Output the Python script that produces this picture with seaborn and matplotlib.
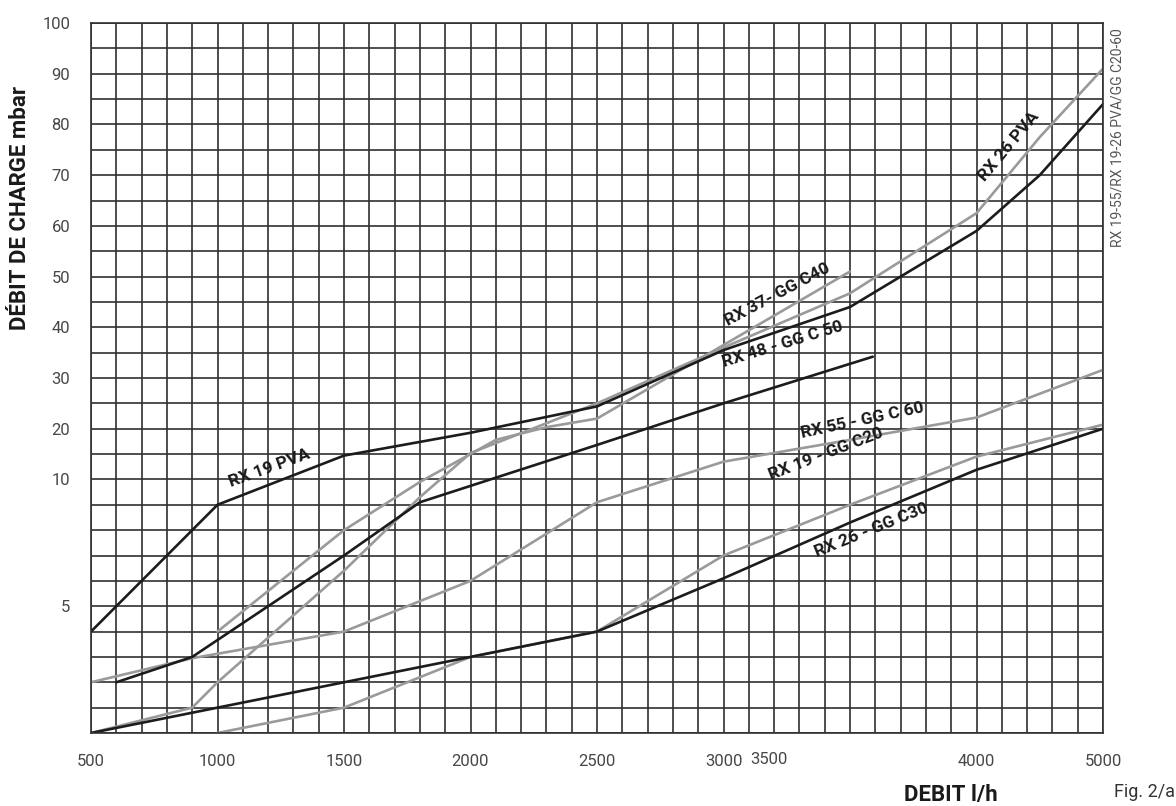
import numpy as np
import pandas as pd
import matplotlib
matplotlib.use('Agg')
import matplotlib.pyplot as plt
import matplotlib.transforms as mtransforms
import seaborn as sns

# debit (l/h) / perte de charge (mbar)
x_rx19_pva = [500, 1000, 1500, 2000, 2500, 3000, 3500, 4000, 4500, 5000]
y_rx19_pva = [4, 9, 14.7, 19.2, 24.4, 35.5, 44, 59, 70, 84]

x_rx26_pva = [500, 900, 1000, 1500, 1800, 2000, 2500, 3000, 3500, 4000, 4500, 5000]
y_rx26_pva = [0, 1, 2, 6.4, 9.3, 15.2, 25, 36, 46.7, 62.5, 77.5, 91]

x_rx37_c40 = [1000, 1500, 1800, 2000, 2100, 2300, 2500, 3000, 3500]
y_rx37_c40 = [4, 8, 9.9, 15, 17.8, 20.3, 22, 36.5, 51]

x_rx48_c50 = [600, 900, 1500, 1800, 2500, 3000, 3590]
y_rx48_c50 = [2, 3, 7, 9.1, 16.8, 25, 34.2]

x_rx55_c60 = [500, 900, 1500, 2000, 2500, 3000, 3500, 4000, 5000]
y_rx55_c60 = [2, 2.95, 4, 6, 9.1, 13.5, 17.8, 22.2, 31.6]

x_rx19_c20 = [1000, 1500, 2000, 2500, 3000, 3500, 4000, 5000]
y_rx19_c20 = [0, 1, 3, 4, 7, 9, 14.5, 20.8]

x_rx26_c30 = [500, 1000, 1500, 2000, 2500, 3000, 3500, 4000, 5000]
y_rx26_c30 = [0, 1, 2, 3, 4, 6.1, 8.3, 11.9, 20]

x_ticks = [500, 1000, 1500, 2000, 2500, 3000, 3500, 4000, 5000]
x_labels = ['500', '1000', '1500', '2000', '2500', '3000', '', '4000', '5000']
y_ticks = [0, 5, 10, 20, 30, 40, 50, 60, 70, 80, 90, 100]
y_labels = ['', '5', '10', '20', '30', '40', '50', '60', '70', '80', '90', '100']

courbes = {
    'RX 26 PVA': (x_rx26_pva, y_rx26_pva),
    'RX 37 - GG C40': (x_rx37_c40, y_rx37_c40),
    'RX 55 - GG C 60': (x_rx55_c60, y_rx55_c60),
    'RX 19 - GG C20': (x_rx19_c20, y_rx19_c20),
    'RX 19 PVA': (x_rx19_pva, y_rx19_pva),
    'RX 48 - GG C 50': (x_rx48_c50, y_rx48_c50),
    'RX 26 - GG C30': (x_rx26_c30, y_rx26_c30),
}
gris = '#9a9a9a'
noir = '#1c1c1c'
couleurs = {'RX 26 PVA': gris, 'RX 37 - GG C40': gris, 'RX 55 - GG C 60': gris,
            'RX 19 - GG C20': gris, 'RX 19 PVA': noir, 'RX 48 - GG C 50': noir,
            'RX 26 - GG C30': noir}

df = pd.concat([pd.DataFrame({'debit': xs, 'mbar': ys, 'courbe': nom})
                for nom, (xs, ys) in courbes.items()], ignore_index=True)


# echelles du papier : 100 l/h par case jusqu'a 4000 puis 200, 1 mbar par case jusqu'a 10 puis 5
def fx(x):
    x = np.asarray(x, dtype=float)
    return np.where(x <= 4000, (x - 500) / 100, 35 + (x - 4000) / 200)


def fx_inv(p):
    p = np.asarray(p, dtype=float)
    return np.where(p <= 35, 500 + 100 * p, 4000 + 200 * (p - 35))


def fy(v):
    v = np.asarray(v, dtype=float)
    return np.where(v <= 10, v, 10 + (v - 10) / 5)


def fy_inv(p):
    p = np.asarray(p, dtype=float)
    return np.where(p <= 10, p, 10 + 5 * (p - 10))


sns.set_style('white')
plt.rcParams['font.family'] = ['Roboto', 'DejaVu Sans']

fig = plt.figure(figsize=(11.76, 8.06), dpi=100)
ax = fig.add_axes([91 / 1176, 1 - 733 / 806, 1012 / 1176, 710 / 806])
ax.set_xscale('function', functions=(fx, fx_inv))
ax.set_yscale('function', functions=(fy, fy_inv))

sns.lineplot(data=df, x='debit', y='mbar', hue='courbe', hue_order=list(courbes),
             palette=couleurs, estimator=None, sort=False, legend=False,
             linewidth=1.9, ax=ax)

ax.set_xlim(500, 5000)
ax.set_ylim(0, 100)

minor_x = list(range(600, 4000, 100)) + list(range(4200, 5000, 200))
minor_y = list(range(1, 10)) + list(range(15, 100, 5))
ax.set_xticks(x_ticks)
ax.set_xticklabels(x_labels)
ax.set_xticks(minor_x, minor=True)
ax.set_yticks(y_ticks)
ax.set_yticklabels(y_labels)
ax.set_yticks(minor_y, minor=True)
ax.grid(which='both', color='#303030', linewidth=1.2)
ax.set_axisbelow(True)
ax.tick_params(which='minor', length=0)
ax.tick_params(which='major', length=6, width=1.2, color='#303030',
               labelsize=12, labelcolor='#474747', pad=9)
for sp in ax.spines.values():
    sp.set_color('#303030')
    sp.set_linewidth(1.2)
ax.set_xlabel('')
ax.set_ylabel('')

# le "3500" ecrit a cote du 3000 sur l'original
ax.text(3180, -19 / 710, '3500', transform=mtransforms.blended_transform_factory(ax.transData, ax.transAxes),
        ha='center', va='top', fontsize=12, color='#474747')

etiquettes = [
    ('RX 19 PVA', 1207, 12.2, 20),
    ('RX 37- GG C40', 3212, 46.5, 28),
    ('RX 48 - GG C 50', 3235, 36.6, 17),
    ('RX 55 - GG C 60', 3547, 21.6, 12),
    ('RX 19 - GG C20', 3405, 15.0, 21),
    ('RX 26 - GG C30', 3583, 8.0, 22),
    ('RX 26 PVA', 4256, 75.6, 50),
]
for txt, xt, yt, rot in etiquettes:
    ax.text(xt, yt, txt, rotation=rot, rotation_mode='anchor', ha='center', va='center',
            fontsize=12.5, fontweight='bold', color='#1a1a1a')

fig.text(20 / 1176, 1 - 208 / 806, 'DÉBIT DE CHARGE mbar', rotation=90, ha='center', va='center',
         fontsize=16, fontweight='bold', color='#1a1a1a')
fig.text(951 / 1176, 1 - 795 / 806, 'DEBIT l/h', ha='center', va='center',
         fontsize=16, fontweight='bold', color='#1a1a1a')
fig.text(1145 / 1176, 1 - 792 / 806, 'Fig. 2/a', ha='center', va='center', fontsize=13, color='#333333')
fig.text(1117 / 1176, 1 - 138 / 806, 'RX 19-55/RX 19-26 PVA/GG C20-60', rotation=90,
         ha='center', va='center', fontsize=10, color='#555555')

fig.savefig('out.png', dpi=100)
